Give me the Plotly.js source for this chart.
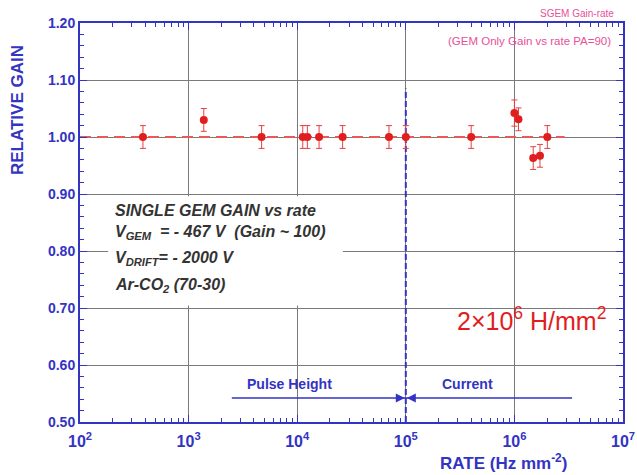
<!DOCTYPE html>
<html>
<head>
<meta charset="utf-8">
<script src="https://cdn.plot.ly/plotly-3.0.1.min.js"></script>
<style>html,body{margin:0;padding:0;background:#fff;}#chart{width:637px;height:475px;}</style>
</head>
<body>
<div id="chart"></div>
<script>
// ---- data ----
var rate = [380, 1380, 4700, 11250, 12400, 15900, 26200, 70000, 100000, 400000, 1000000, 1090000, 1490000, 1720000, 2010000];
var gain = [1.00, 1.03, 1.00, 1.00, 1.00, 1.00, 1.00, 1.00, 1.00, 1.00, 1.042, 1.031, 0.963, 0.967, 1.00];
var gainErr = [0.02, 0.02, 0.02, 0.02, 0.02, 0.02, 0.02, 0.02, 0.02, 0.02, 0.023, 0.02, 0.02, 0.02, 0.02];

var refLineX = [100, 2900000];
var refLineY = [1.0, 1.0];
var boundaryX = [100000, 100000];
var boundaryY = [0.50, 1.085];

var arrowY = 0.542;
var pulseStart = 2500, boundary = 100000, currentEnd = 3400000;

var xTickVals = [100, 1000, 10000, 100000, 1000000, 10000000];
var xTickText = ['10<sup>2</sup>', '10<sup>3</sup>', '10<sup>4</sup>', '10<sup>5</sup>', '10<sup>6</sup>', '10<sup>7</sup>'];
var yTickVals = [0.5, 0.6, 0.7, 0.8, 0.9, 1.0, 1.1, 1.2];
var yTickText = ['0.50', '0.60', '0.70', '0.80', '0.90', '1.00', '1.10', '1.20'];

var infoLines = [
  'SINGLE GEM GAIN vs rate',
  'V<sub>GEM</sub>  = - 467 V  (Gain ~ 100)',
  'V<sub>DRIFT</sub>= - 2000 V',
  'Ar-CO<sub>2</sub> (70-30)'
];

// minor tick positions (2..9 within each decade)
var xMinor = [];
for (var d = 100; d < 10000000; d *= 10) {
  for (var m = 2; m <= 9; m++) xMinor.push(d * m);
}

var BLUE = '#3333c4';
var RED = '#e01e1e';
var PINK = '#e8509a';
var FONT = 'Liberation Sans, Arial, sans-serif';

var traces = [
  {x: refLineX, y: refLineY, mode: 'lines', type: 'scatter',
   line: {color: '#e85a5a', width: 2, dash: '11px,6px'}, hoverinfo: 'skip', showlegend: false},
  {x: boundaryX, y: boundaryY, mode: 'lines', type: 'scatter',
   line: {color: BLUE, width: 2, dash: '6px,3px'}, hoverinfo: 'skip', showlegend: false},
  {x: [pulseStart, currentEnd], y: [arrowY, arrowY], mode: 'lines', type: 'scatter',
   line: {color: BLUE, width: 1.5}, hoverinfo: 'skip', showlegend: false},
  {x: rate, y: gain, mode: 'markers', type: 'scatter',
   marker: {color: RED, size: 8},
   error_y: {type: 'data', array: gainErr, visible: true, color: '#e84040', thickness: 1, width: 3},
   showlegend: false}
];

var annotations = [];
var infoY = [0.531, 0.476, 0.411, 0.343];
for (var i = 0; i < infoLines.length; i++) {
  annotations.push({xref: 'paper', yref: 'paper', x: 0.061, y: infoY[i], xanchor: 'left', yanchor: 'middle',
    text: '<b><i>' + infoLines[i] + '</i></b>', showarrow: false,
    font: {family: FONT, size: 16, color: '#333333'}});
}
annotations.push(
  {x: Math.log10(8500), y: 0.567, xref: 'x', yref: 'y', xanchor: 'center', text: '<b>Pulse Height</b>', showarrow: false,
   font: {family: FONT, size: 14, color: BLUE}},
  {x: Math.log10(370000), y: 0.567, xref: 'x', yref: 'y', xanchor: 'center', text: '<b>Current</b>', showarrow: false,
   font: {family: FONT, size: 14, color: BLUE}},
  {x: Math.log10(boundary), y: arrowY, ax: Math.log10(boundary) - 0.1, ay: arrowY, xref: 'x', yref: 'y', axref: 'x', ayref: 'y',
   text: '', showarrow: true, arrowhead: 2, arrowsize: 1.2, arrowwidth: 1.5, arrowcolor: BLUE, standoff: 1},
  {x: Math.log10(boundary), y: arrowY, ax: Math.log10(boundary) + 0.1, ay: arrowY, xref: 'x', yref: 'y', axref: 'x', ayref: 'y',
   text: '', showarrow: true, arrowhead: 2, arrowsize: 1.2, arrowwidth: 1.5, arrowcolor: BLUE, standoff: 1},
  {xref: 'paper', yref: 'paper', x: 0.831, y: 0.257, xanchor: 'center', yanchor: 'middle', text: '2\u00d710<sup>6</sup> H/mm<sup>2</sup>', showarrow: false,
   font: {family: FONT, size: 25, color: RED}},
  {xref: 'paper', yref: 'paper', x: 0.988, y: 1.024, xanchor: 'right', yanchor: 'middle', text: 'SGEM Gain-rate', showarrow: false,
   font: {family: FONT, size: 10, color: PINK}},
  {xref: 'paper', yref: 'paper', x: 0.982, y: 0.955, xanchor: 'right', yanchor: 'middle', text: '(GEM Only Gain vs rate PA=90)', showarrow: false,
   font: {family: FONT, size: 11.5, color: PINK}},
  {xref: 'paper', yref: 'paper', x: -0.114, y: 0.782, xanchor: 'center', yanchor: 'middle', textangle: -90, text: '<b>RELATIVE GAIN</b>', showarrow: false,
   font: {family: FONT, size: 17, color: BLUE}},
  {xref: 'paper', yref: 'paper', x: 0.78, y: -0.1, xanchor: 'center', yanchor: 'middle', text: '<b>RATE (Hz mm<sup>-2</sup>)</b>', showarrow: false,
   font: {family: FONT, size: 17, color: BLUE}}
);

var layout = {
  width: 637, height: 475,
  margin: {l: 80, r: 14, t: 23, b: 53},
  paper_bgcolor: '#ffffff', plot_bgcolor: '#ffffff',
  showlegend: false,
  xaxis: {
    type: 'log', range: [2, 7],
    tickvals: xTickVals, ticktext: xTickText,
    ticks: 'inside', ticklen: 7, tickcolor: BLUE, tickwidth: 1,
    ticklabelstandoff: 4,
    showgrid: true, gridcolor: '#7a7a7a', gridwidth: 1,
    showline: true, linecolor: BLUE, linewidth: 2, mirror: 'ticks',
    minor: {ticks: 'inside', ticklen: 4, tickcolor: BLUE, tickvals: xMinor, showgrid: false},
    tickfont: {family: FONT, size: 16, color: BLUE, weight: 'bold'},
    zeroline: false
  },
  yaxis: {
    range: [0.5, 1.2],
    tickvals: yTickVals, ticktext: yTickText,
    ticks: 'inside', ticklen: 7, tickcolor: BLUE, tickwidth: 1,
    showgrid: true, gridcolor: '#7a7a7a', gridwidth: 1,
    showline: true, linecolor: BLUE, linewidth: 2, mirror: 'ticks',
    minor: {ticks: 'inside', ticklen: 4, tickcolor: BLUE, dtick: 0.02, showgrid: false},
    tickfont: {family: FONT, size: 14, color: BLUE, weight: 'bold'},
    zeroline: false
  },
  shapes: [
    {type: 'rect', xref: 'paper', yref: 'paper', x0: 0.052, x1: 0.484, y0: 0.292, y1: 0.566,
     fillcolor: '#ffffff', line: {width: 0}, layer: 'above'}
  ],
  annotations: annotations
};

Plotly.newPlot('chart', traces, layout, {displayModeBar: false, staticPlot: true});
</script>
</body>
</html>
